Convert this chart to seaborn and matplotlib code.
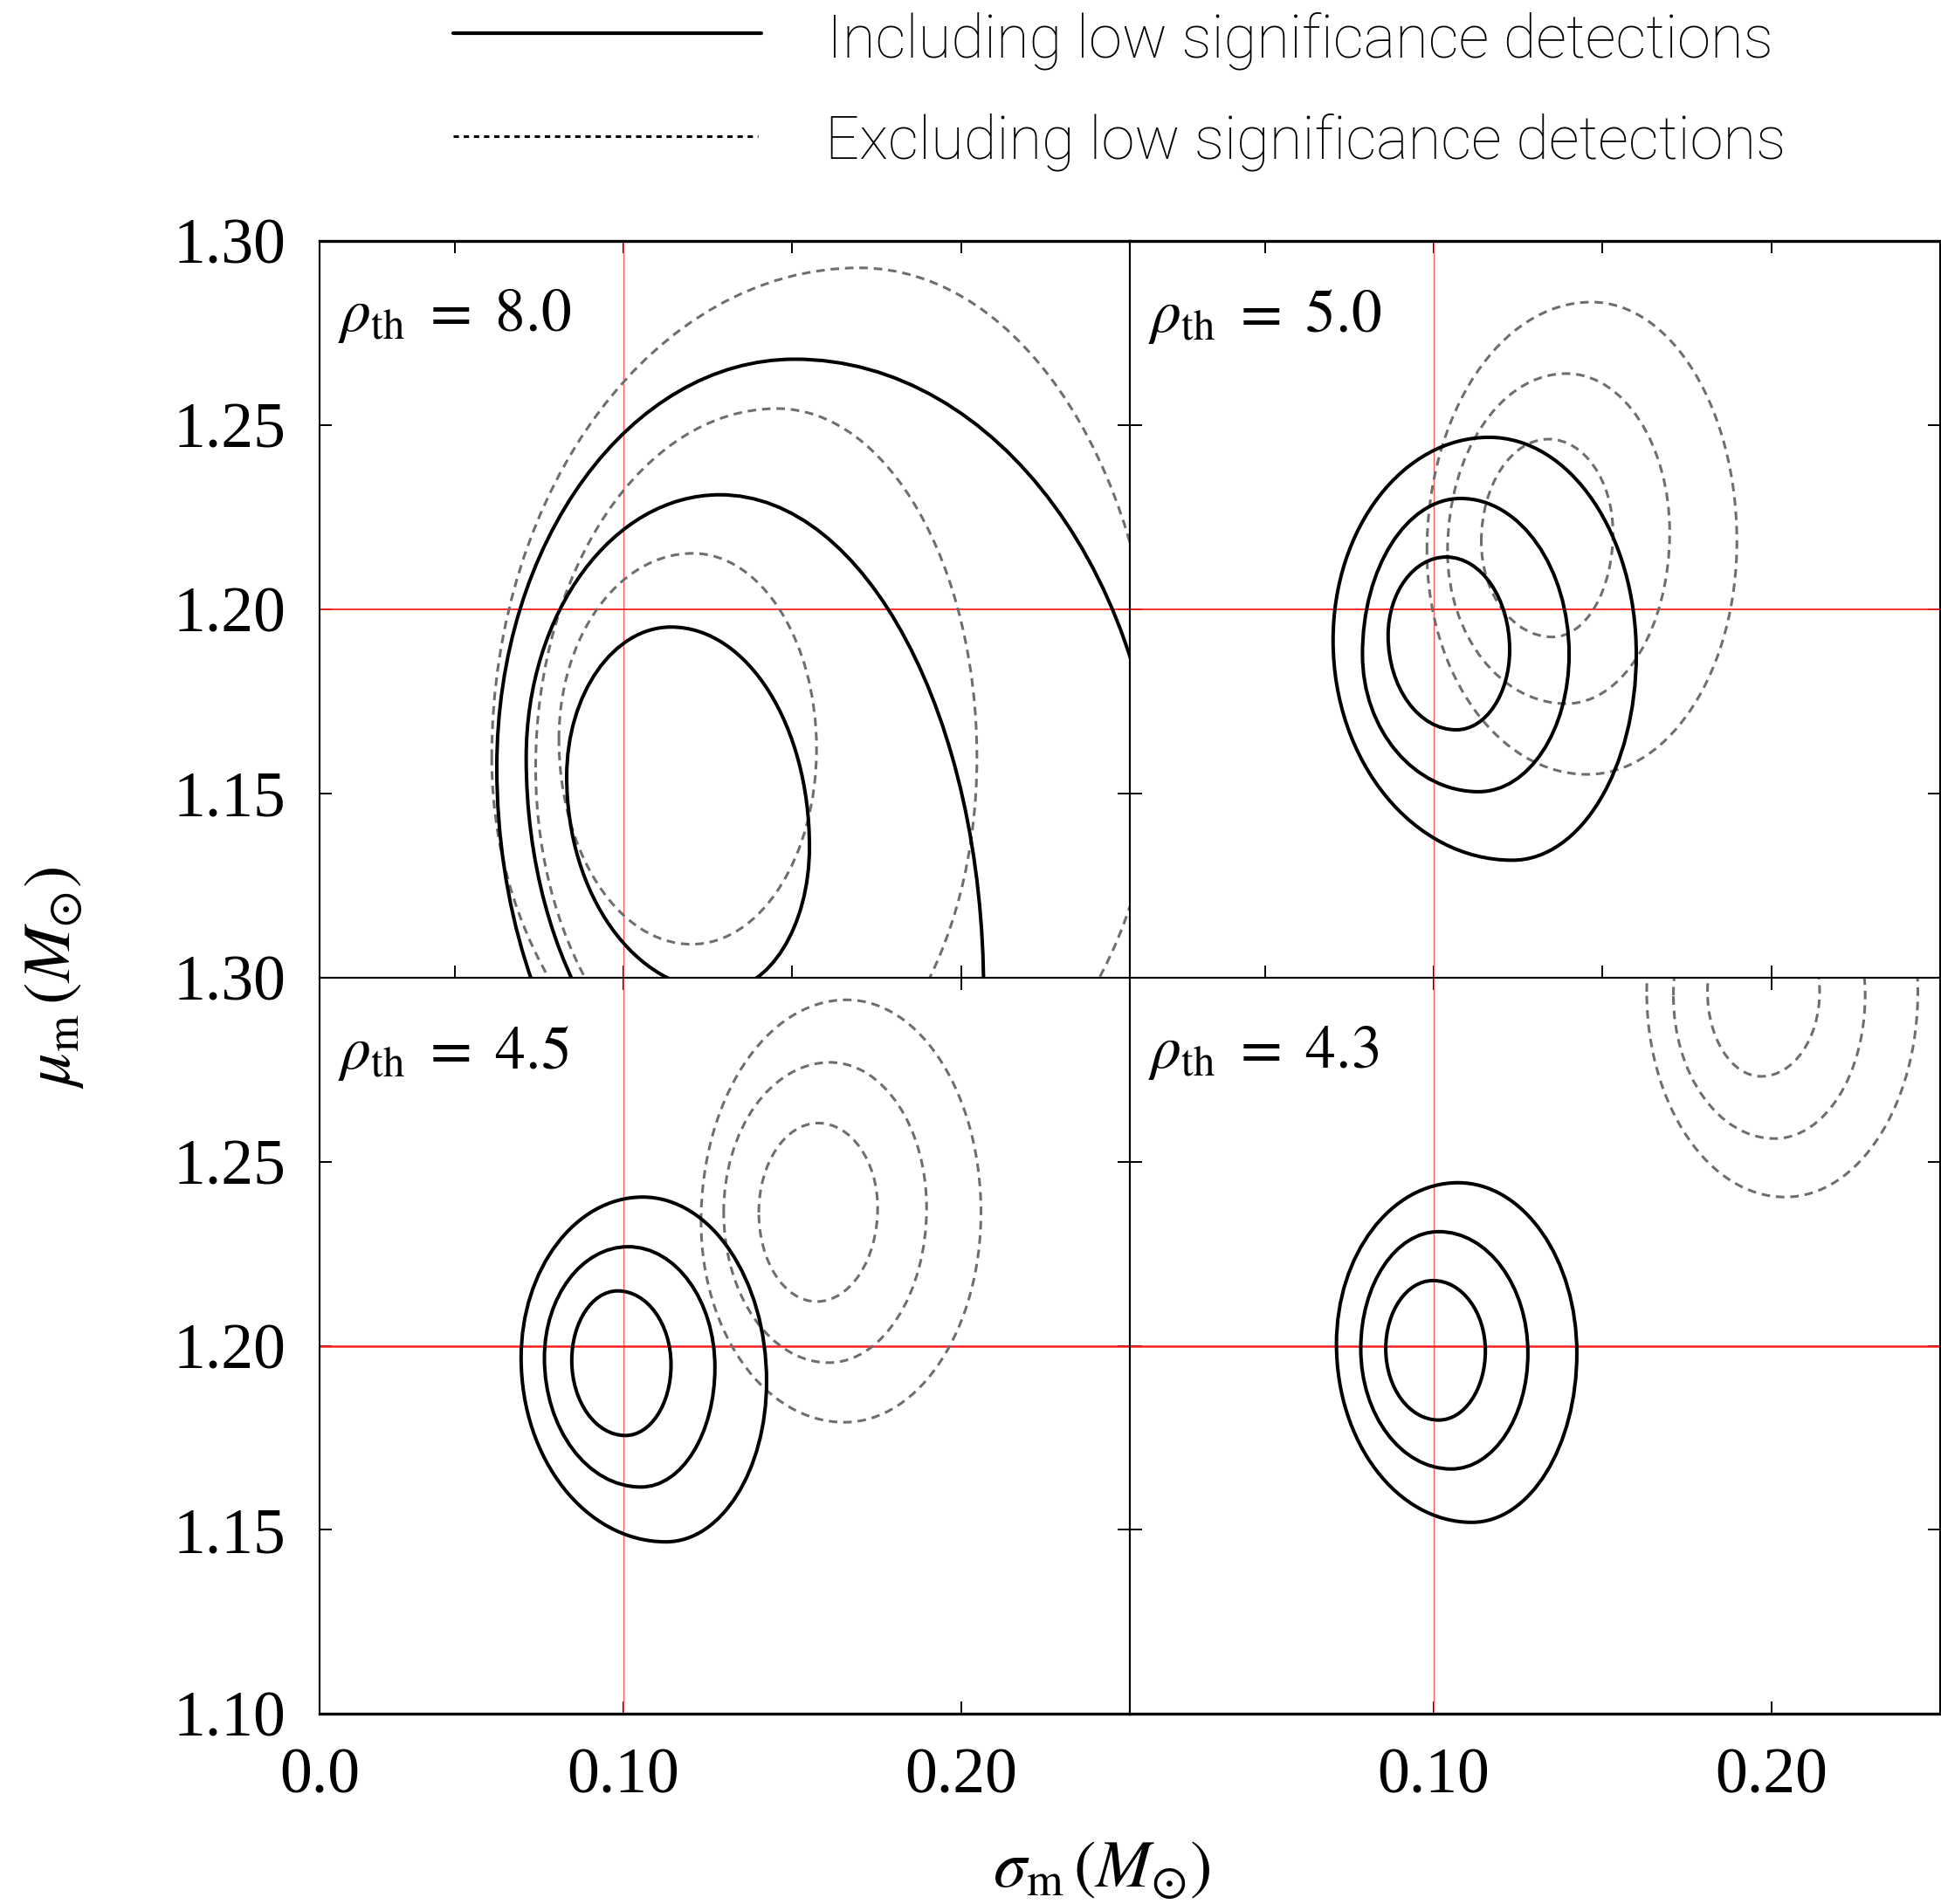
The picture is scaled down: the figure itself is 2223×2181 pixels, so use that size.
import numpy as np
import pandas as pd
import matplotlib
matplotlib.use("Agg")
import matplotlib.pyplot as plt
from matplotlib.path import Path
from matplotlib.patches import PathPatch
from matplotlib.lines import Line2D
import seaborn as sns

# ---------------- data ----------------
# Each credible contour is described by its four extreme points
# (leftmost, top, rightmost, bottom) in (sigma_m, mu_m) units.
panel_labels = ["8.0", "5.0", "4.5", "4.3"]
true_sigma = 0.10
true_mu = 1.20

contour_panel = ["8.0"] * 6 + ["5.0"] * 6 + ["4.5"] * 6 + ["4.3"] * 6
contour_kind = (["incl"] * 3 + ["excl"] * 3) * 4

left_x = [0.0832, 0.0712, 0.0625, 0.0809, 0.0740, 0.0610,
          0.0865, 0.0789, 0.0702, 0.1141, 0.1041, 0.0980,
          0.0847, 0.0766, 0.0697, 0.1401, 0.1297, 0.1230,
          0.0858, 0.0784, 0.0712, 0.1811, 0.1710, 0.1631]
left_y = [1.1546, 1.1597, 1.1571, 1.1648, 1.1571, 1.1597,
          1.1929, 1.1878, 1.1916, 1.2184, 1.2158, 1.2158,
          1.1960, 1.1967, 1.1967, 1.2362, 1.2362, 1.2337,
          1.1992, 1.1992, 1.2005, 1.2962, 1.2952, 1.2962]
top_x = [0.1141, 0.1286, 0.1508, 0.1205, 0.1455, 0.1699,
         0.1037, 0.1080, 0.1164, 0.1340, 0.1393, 0.1467,
         0.0983, 0.1014, 0.1057, 0.1577, 0.1612, 0.1661,
         0.0998, 0.1015, 0.1072, 0.1975, 0.1998, 0.2036]
top_y = [1.1952, 1.2311, 1.2679, 1.2152, 1.2545, 1.2927,
         1.2142, 1.2301, 1.2467, 1.2462, 1.2640, 1.2834,
         1.2149, 1.2269, 1.2404, 1.2605, 1.2770, 1.2940,
         1.2177, 1.2310, 1.2443, 1.3191, 1.3341, 1.3514]
right_x = [0.1551, 0.2067, 0.2592, 0.1572, 0.2047, 0.2580,
           0.1225, 0.1401, 0.1600, 0.1531, 0.1699, 0.1898,
           0.1141, 0.1271, 0.1424, 0.1753, 0.1898, 0.2059,
           0.1153, 0.1279, 0.1424, 0.2143, 0.2278, 0.2434]
right_y = [1.1355, 1.0959, 1.1327, 1.1622, 1.1597, 1.1650,
           1.1890, 1.1878, 1.1878, 1.2209, 1.2209, 1.2184,
           1.1948, 1.1941, 1.1903, 1.2375, 1.2375, 1.2362,
           1.1986, 1.1980, 1.1980, 1.2962, 1.2952, 1.2962]
bottom_x = [0.1285, 0.1420, 0.1704, 0.1202, 0.1420, 0.1631,
            0.1067, 0.1133, 0.1233, 0.1352, 0.1393, 0.1455,
            0.1006, 0.1052, 0.1126, 0.1572, 0.1608, 0.1654,
            0.1015, 0.1052, 0.1113, 0.1970, 0.2010, 0.2041]
bottom_y = [1.0965, 1.0577, 1.0219, 1.1091, 1.0649, 1.0513,
            1.1673, 1.1505, 1.1319, 1.1925, 1.1744, 1.1552,
            1.1756, 1.1616, 1.1467, 1.2120, 1.1954, 1.1792,
            1.1798, 1.1665, 1.1520, 1.2732, 1.2563, 1.2404]

contours = pd.DataFrame({
    "panel": contour_panel, "kind": contour_kind,
    "lx": left_x, "ly": left_y, "tx": top_x, "ty": top_y,
    "rx": right_x, "ry": right_y, "bx": bottom_x, "by": bottom_y,
})

x_ticks_top = [0.05, 0.10, 0.15, 0.20]
x_ticks_bottom = [0.01, 0.10, 0.20]
x_labels_bl = ["0.0", "0.10", "0.20"]
x_labels_br = ["", "0.10", "0.20"]
y_ticks = [1.10, 1.15, 1.20, 1.25, 1.30]
y_labels_tl = ["1.30", "1.15", "1.20", "1.25", "1.30"]
y_labels_bl = ["1.10", "1.15", "1.20", "1.25", ""]
legend_labels = ["Including low significance detections",
                 "Excluding low significance detections"]

# ---------------- style ----------------
sns.set_theme(style="ticks")
plt.rcParams["font.family"] = ["Liberation Serif", "DejaVu Serif"]
plt.rcParams["mathtext.fontset"] = "stix"
plt.rcParams["axes.edgecolor"] = "black"
plt.rcParams["xtick.color"] = "black"
plt.rcParams["ytick.color"] = "black"
plt.rcParams["text.color"] = "black"

K = 0.5523


def contour_path(r):
    verts = [
        (r.lx, r.ly),
        (r.lx, r.ly + K * (r.ty - r.ly)), (r.tx - K * (r.tx - r.lx), r.ty), (r.tx, r.ty),
        (r.tx + K * (r.rx - r.tx), r.ty), (r.rx, r.ry + K * (r.ty - r.ry)), (r.rx, r.ry),
        (r.rx, r.ry - K * (r.ry - r.by)), (r.bx + K * (r.rx - r.bx), r.by), (r.bx, r.by),
        (r.bx - K * (r.bx - r.lx), r.by), (r.lx, r.ly - K * (r.ly - r.by)), (r.lx, r.ly),
        (r.lx, r.ly),
    ]
    codes = [Path.MOVETO] + [Path.CURVE4] * 12 + [Path.CLOSEPOLY]
    return Path(verts, codes)


W, H = 2223, 2181
fig = plt.figure(figsize=(W / 100, H / 100), dpi=100)
xl, xm, xr = 366 / W, 1294 / W, 2222 / W
yt, ym, yb = 1 - 276 / H, 1 - 1120 / H, 1 - 1963 / H
rects = [[xl, ym, xm - xl, yt - ym], [xm, ym, xr - xm, yt - ym],
         [xl, yb, xm - xl, ym - yb], [xm, yb, xr - xm, ym - yb]]

for i, (lab, rect) in enumerate(zip(panel_labels, rects)):
    ax = fig.add_axes(rect)
    ax.set_xlim(0.01, 0.25)
    ax.set_ylim(1.10, 1.30)
    ax.set_facecolor("white")
    ax.axvline(true_sigma, color="#ff5a5a", lw=0.9, zorder=1)
    ax.axhline(true_mu, color="#ff2020", lw=1.3 if i < 2 else 1.8, zorder=1)
    sub = contours[contours["panel"] == lab]
    for _, r in sub.iterrows():
        if r.kind == "incl":
            p = PathPatch(contour_path(r), fill=False, edgecolor="black",
                          lw=2.9, zorder=3)
        else:
            p = PathPatch(contour_path(r), fill=False, edgecolor="#6e6e6e",
                          lw=2.2, linestyle=(0, (3.2, 2.2)), zorder=2)
        ax.add_patch(p)
    for name, s in ax.spines.items():
        s.set_linewidth(1.5)
        s.set_color("black")
        s.set_visible(True)
    if i < 2:
        ax.spines["top"].set_linewidth(2.4)
    else:
        ax.spines["bottom"].set_linewidth(2.4)
    ax.tick_params(direction="in", length=10, width=1.4, top=True, right=True,
                   labelsize=53, pad=28)
    if i < 2:
        ax.set_xticks(x_ticks_top)
        ax.set_xticklabels([])
    else:
        ax.set_xticks(x_ticks_bottom)
        ax.set_xticklabels(x_labels_bl if i == 2 else x_labels_br)
    ax.set_yticks(y_ticks)
    if i == 0:
        ax.set_yticklabels(y_labels_tl)
    elif i == 2:
        ax.set_yticklabels(y_labels_bl)
    else:
        ax.set_yticklabels([])
    ax.text(0.023, 0.937, r"$\rho_{\rm th}\ =\ %s$" % lab, transform=ax.transAxes,
            ha="left", va="top", fontsize=50)

fig.text(1262 / W, 1 - 2142 / H, r"$\sigma_{\rm m}\,(M_{\odot})$", ha="center",
         va="center", fontsize=55)
fig.text(62 / W, 1 - 1120 / H, r"$\mu_{\rm m}\,(M_{\odot})$", ha="center",
         va="center", rotation=90, fontsize=55)

# legend at top
fig.add_artist(Line2D([519 / W, 872 / W], [1 - 38 / H, 1 - 38 / H],
                      transform=fig.transFigure, color="black", lw=3.0))
fig.add_artist(Line2D([519 / W, 868 / W], [1 - 156 / H, 1 - 156 / H],
                      transform=fig.transFigure, color="black", lw=2.2,
                      linestyle=(0, (2.0, 1.8))))
fig.text(947 / W, 1 - 66 / H, legend_labels[0], ha="left", va="baseline",
         fontsize=49.5, family=["Roboto", "DejaVu Sans"], fontweight="light",
         color="black")
fig.text(945 / W, 1 - 182 / H, legend_labels[1], ha="left", va="baseline",
         fontsize=49.5, family=["Roboto", "DejaVu Sans"], fontweight="light",
         color="black")

fig.savefig("out.png", dpi=100, facecolor="white")
